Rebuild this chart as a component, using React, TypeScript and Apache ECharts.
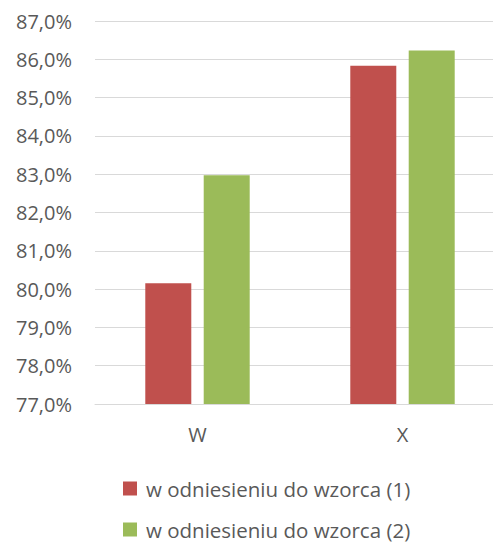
import React, { useEffect, useRef } from "react";
import * as echarts from "echarts";

const categories = ["W", "X"];
const series1Name = "w odniesieniu do wzorca (1)";
const series2Name = "w odniesieniu do wzorca (2)";
const series1Values = [80.15, 85.83];
const series2Values = [82.97, 86.23];
const yMin = 77;
const yMax = 87;
const yStep = 1;

const FONT = "'Open Sans', 'Noto Sans', sans-serif";
const TEXT_COLOR = "#595959";

const legendBase = {
  orient: "horizontal",
  left: 123,
  padding: 0,
  icon: "rect",
  itemWidth: 14,
  itemHeight: 14,
  textStyle: { fontFamily: FONT, fontSize: 20.5, lineHeight: 20, color: TEXT_COLOR, padding: [0, 0, 0, 4] },
};

export default function App() {
  const ref = useRef<HTMLDivElement>(null);
  useEffect(() => {
    if (!ref.current) return;
    const chart = echarts.init(ref.current, undefined, { renderer: "svg" });
    chart.setOption({
      animation: false,
      backgroundColor: "#ffffff",
      textStyle: { fontFamily: FONT },
      grid: { left: 95, top: 21, width: 410, height: 383, containLabel: false },
      legend: [
        { ...legendBase, top: 478, data: [series1Name] },
        { ...legendBase, top: 519, data: [series2Name] },
      ],
      xAxis: {
        type: "category",
        data: categories,
        axisLine: { show: true, lineStyle: { color: "#d9d9d9", width: 1 } },
        axisTick: { show: false },
        axisLabel: { color: TEXT_COLOR, fontSize: 20, fontFamily: FONT, margin: 20 },
      },
      yAxis: {
        type: "value",
        min: yMin,
        max: yMax,
        interval: yStep,
        axisLine: { show: false },
        axisTick: { show: false },
        splitLine: { lineStyle: { color: "#d9d9d9", width: 1 } },
        axisLabel: {
          color: TEXT_COLOR,
          fontSize: 20,
          fontFamily: FONT,
          margin: 23,
          formatter: (v: number) => v.toFixed(1).replace(".", ",") + "%",
        },
      },
      series: [
        {
          name: series1Name,
          type: "bar",
          data: series1Values,
          barWidth: 46,
          barGap: "27%",
          itemStyle: { color: "#C0504D" },
        },
        {
          name: series2Name,
          type: "bar",
          data: series2Values,
          barWidth: 46,
          barGap: "27%",
          itemStyle: { color: "#9BBB59" },
        },
      ],
    });
    return () => chart.dispose();
  }, []);
  return (
    <div
      style={{ position: "absolute", left: 0, top: 0, width: 493, height: 543, overflow: "hidden", background: "#fff" }}
    >
      <div ref={ref} style={{ position: "absolute", left: 0, top: 0, width: 515, height: 543 }} />
    </div>
  );
}
